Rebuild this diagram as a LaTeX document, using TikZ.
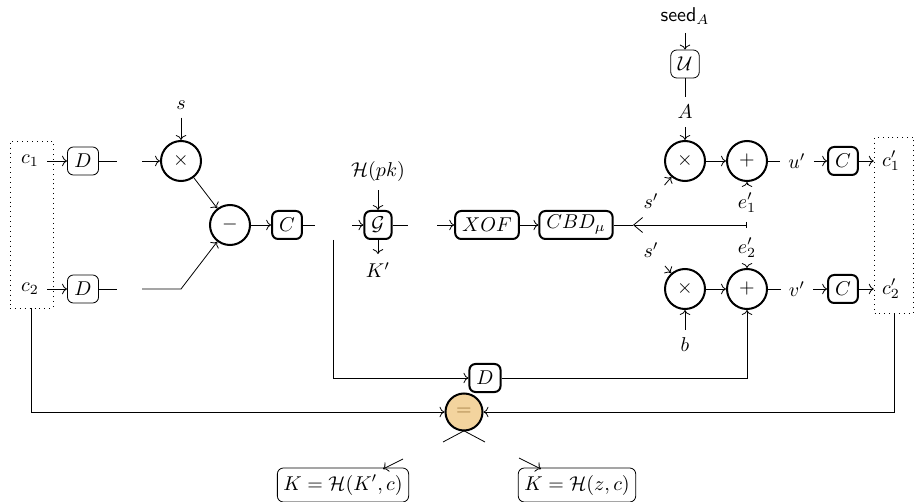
\documentclass[tikz,border=0pt]{standalone}
\usetikzlibrary{arrows.meta}
\definecolor{eqfill}{HTML}{F3D49E}
\definecolor{eqtext}{HTML}{A07A40}
\begin{document}
\begin{tikzpicture}[x=0.5pt,y=-0.5pt,
  box/.style={draw, rounded corners=3pt, inner xsep=3.5pt, inner ysep=2pt, minimum height=14pt, line width=0.4pt},
  tbox/.style={box, line width=1pt},
  op/.style={draw, circle, line width=1pt, minimum size=20pt, inner sep=0pt},
  lab/.style={inner sep=4pt},
  dotbox/.style={draw, dotted, line width=0.45pt, inner sep=0pt}]
\useasboundingbox (0,0) rectangle (916,502);

% left dotted box and inputs
\node[dotbox, minimum width=21.5pt, minimum height=83.5pt] (L) at (31.5,224.5) {};
\node[dotbox, minimum width=19.5pt, minimum height=88pt] (R) at (894,225) {};
\node[inner sep=1pt] (c1) at (30,161) {$c_1$};
\node[inner sep=1pt] (c2) at (30,289) {$c_2$};
\node[box] (D1) at (83,161) {$D$};
\node[box] (D2) at (83,289) {$D$};
\draw[->] ([xshift=3pt]c1.east) -- (D1);
\draw[->] ([xshift=3pt]c2.east) -- (D2);

% left multiplication / subtraction
\coordinate (D1e) at (117,161);
\coordinate (M1w) at (142,161);
\coordinate (D2e) at (117,289);
\coordinate (D2m) at (142,289);
\coordinate (bend) at (181,289);
\node[op] (mul1) at (181,161) {$\times$};
\node[lab] (s) at (181,105) {$s$};
\node[op] (sub) at (230,225) {$-$};
\node[tbox] (C0) at (287,225) {$C$};
\coordinate (C0e) at (315,225);
\draw (D1) -- (D1e);
\draw[->] (M1w) -- (mul1);
\draw[->] (s) -- (mul1);
\draw[->] (mul1) -- (sub);
\draw (D2) -- (D2e);
\draw[->] (D2m) -- (bend) -- (sub);
\draw[->] (sub) -- (C0);
\draw (C0) -- (C0e);

% G
\node[tbox] (G) at (378,225) {$\mathcal{G}$};
\node[lab] (Hpk) at (378,172) {$\mathcal{H}(pk)$};
\node[lab] (Kp) at (378,270) {$K'$};
\coordinate (Gw) at (352,225);
\coordinate (Ge) at (408,225);
\draw[->] (Gw) -- (G);
\draw[->] (Hpk) -- (G);
\draw[->] (G) -- (Kp);
\draw (G) -- (Ge);

% XOF and CBD
\coordinate (Xw) at (437,225);
\node[tbox] (XOF) at (487,225) {$XOF$};
\node[tbox] (CBD) at (576,225) {$CBD_\mu$};
\draw[->] (Xw) -- (XOF);
\draw[->] (XOF) -- (CBD);
\coordinate (split) at (633,225);
\coordinate (tick) at (747,225);
\draw (CBD) -- (split);
\draw[{Bar[width=3pt]}-{Straight Barb[length=4.5pt,width=7.5pt]}] (tick) -- (split);

% upper right row
\node[op] (mul2) at (685,161) {$\times$};
\node[op] (add1) at (747,161) {$+$};
\node[lab] (A) at (685,112) {$A$};
\node[box] (U) at (685,64) {$\mathcal{U}$};
\node[lab] (seed) at (685,16) {\textsf{seed}$_A$};
\draw[->] (seed) -- (U);
\draw (U) -- (A);
\draw[->] (A) -- (mul2);
\node[lab] (sp1) at (651,201) {$s'$};
\draw[->] (sp1) -- (mul2);
\node[lab] (e1) at (747,203) {$e'_1$};
\draw[->] (e1) -- (add1);
\draw[->] (mul2) -- (add1);
\node[lab] (u) at (797,161) {$u'$};
\node[tbox] (C1) at (843,161) {$C$};
\node[lab] (cp1) at (891,161) {$c'_1$};
\draw (add1) -- (u);
\draw[->] (u) -- (C1);
\draw[->] (C1) -- (cp1);

% lower right row
\node[op] (mul3) at (685,289) {$\times$};
\node[op] (add2) at (747,289) {$+$};
\node[lab] (sp2) at (651,250) {$s'$};
\draw[->] (sp2) -- (mul3);
\node[lab] (e2) at (747,248) {$e'_2$};
\draw[->] (e2) -- (add2);
\node[lab] (b) at (685,345) {$b$};
\draw[->] (b) -- (mul3);
\draw[->] (mul3) -- (add2);
\node[lab] (v) at (797,289) {$v'$};
\node[tbox] (C2) at (843,289) {$C$};
\node[lab] (cp2) at (891,289) {$c'_2$};
\draw (add2) -- (v);
\draw[->] (v) -- (C2);
\draw[->] (C2) -- (cp2);

% bottom D
\coordinate (vtop) at (333,240);
\node[tbox] (D3) at (485,378) {$D$};
\draw[->] (vtop) |- (D3);
\draw[->] (D3) -| (add2);

% equality check
\coordinate (xl) at (443,442);
\coordinate (xlt) at (475,425);
\coordinate (xr) at (485,442);
\coordinate (xrt) at (453,425);
\draw (xl) -- (xlt);
\draw (xr) -- (xrt);
\node[op, fill=eqfill, minimum size=18.5pt, text=eqtext] (eq) at (464,412) {$=$};
\draw[->] (L.south) |- (eq);
\draw[->] (R.south) |- (eq);

% keys
\node[box, minimum height=17pt, inner xsep=3pt] (K1) at (343,485) {$K=\mathcal{H}(K',c)$};
\node[box, minimum height=17pt, inner xsep=3pt] (K2) at (577,485) {$K=\mathcal{H}(z,c)$};
\coordinate (k1s) at (403,459);
\coordinate (k1e) at (383,469);
\coordinate (k2s) at (519,458);
\coordinate (k2e) at (541,469);
\draw[->] (k1s) -- (k1e);
\draw[->] (k2s) -- (k2e);
\end{tikzpicture}
\end{document}
